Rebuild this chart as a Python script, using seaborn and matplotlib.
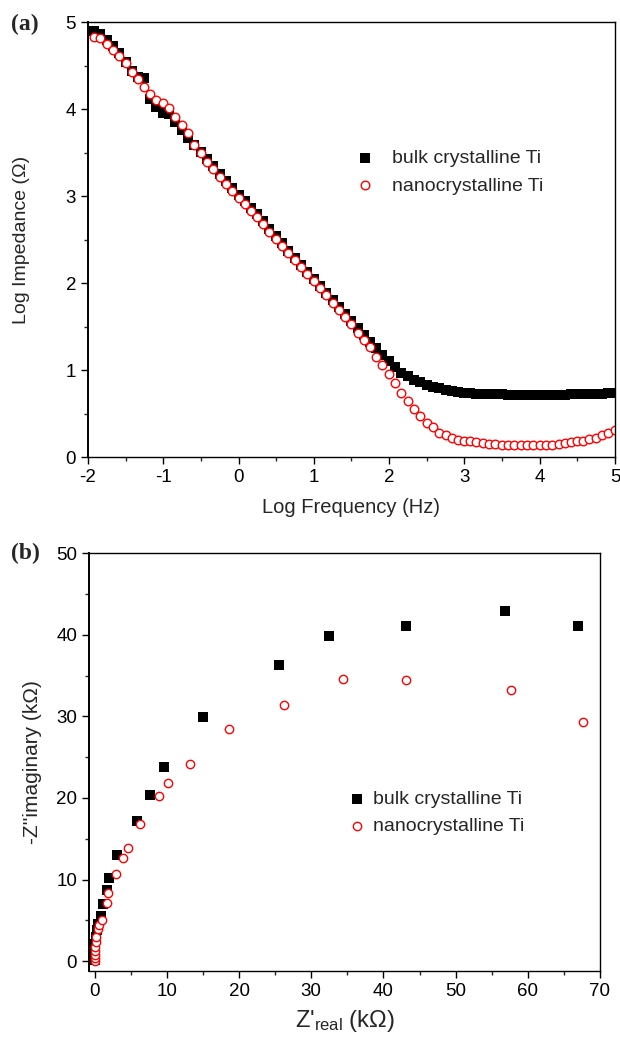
# -*- coding: utf-8 -*-
# EIS of bulk vs nanocrystalline Ti : (a) Bode modulus, (b) Nyquist
import pandas as pd
import matplotlib
matplotlib.use('Agg')
from matplotlib import pyplot as plt
from matplotlib.ticker import MultipleLocator
import seaborn as sns

# (a) Bode data ~~~~~~~~~~~~~~~~~~~~~~~~~~~~~~~~~~~~~~~~~~~~~~~~~~~~~~~~~
log_freq = [-1.92, -1.84, -1.75, -1.67, -1.59, -1.50, -1.42, -1.34, -1.25, -1.17,
            -1.09, -1.00, -0.92, -0.84, -0.75, -0.67, -0.59, -0.50, -0.42, -0.34,
            -0.25, -0.17, -0.09, 0.00, 0.08, 0.16, 0.25, 0.33, 0.41, 0.50,
            0.58, 0.66, 0.75, 0.83, 0.91, 1.00, 1.08, 1.16, 1.25, 1.33,
            1.41, 1.50, 1.58, 1.66, 1.75, 1.83, 1.91, 2.00, 2.08, 2.16,
            2.25, 2.33, 2.41, 2.50, 2.58, 2.66, 2.75, 2.83, 2.91, 3.00,
            3.08, 3.16, 3.25, 3.33, 3.41, 3.50, 3.58, 3.66, 3.75, 3.83,
            3.91, 4.00, 4.08, 4.16, 4.25, 4.33, 4.41, 4.50, 4.58, 4.66,
            4.75, 4.83, 4.91, 5.00]

bulk_log_z = [4.90, 4.86, 4.79, 4.72, 4.64, 4.54, 4.44, 4.37, 4.36, 4.12,
              4.02, 3.95, 3.94, 3.85, 3.76, 3.67, 3.59, 3.51, 3.42, 3.34,
              3.25, 3.17, 3.09, 3.01, 2.94, 2.86, 2.79, 2.71, 2.62, 2.54,
              2.46, 2.37, 2.29, 2.21, 2.13, 2.05, 1.97, 1.89, 1.80, 1.72,
              1.64, 1.56, 1.48, 1.40, 1.32, 1.25, 1.17, 1.10, 1.03, 0.97,
              0.93, 0.89, 0.86, 0.83, 0.81, 0.79, 0.77, 0.76, 0.75, 0.74,
              0.735, 0.73, 0.725, 0.72, 0.72, 0.72, 0.715, 0.715, 0.715, 0.715,
              0.715, 0.715, 0.715, 0.715, 0.715, 0.715, 0.72, 0.72, 0.72, 0.725,
              0.73, 0.73, 0.735, 0.74]

nano_log_z = [4.83, 4.82, 4.75, 4.68, 4.61, 4.53, 4.43, 4.34, 4.25, 4.17,
              4.10, 4.07, 4.01, 3.91, 3.82, 3.72, 3.59, 3.49, 3.39, 3.31,
              3.22, 3.14, 3.06, 2.98, 2.91, 2.83, 2.76, 2.68, 2.59, 2.51,
              2.43, 2.34, 2.26, 2.18, 2.10, 2.02, 1.94, 1.86, 1.77, 1.69,
              1.61, 1.53, 1.43, 1.34, 1.26, 1.15, 1.06, 0.95, 0.85, 0.74,
              0.64, 0.55, 0.47, 0.39, 0.34, 0.28, 0.25, 0.22, 0.20, 0.19,
              0.18, 0.17, 0.16, 0.15, 0.15, 0.14, 0.14, 0.14, 0.14, 0.14,
              0.14, 0.14, 0.14, 0.14, 0.15, 0.16, 0.17, 0.18, 0.19, 0.21,
              0.22, 0.25, 0.28, 0.31]

# (b) Nyquist data (kOhm) ~~~~~~~~~~~~~~~~~~~~~~~~~~~~~~~~~~~~~~~~~~~~~~~
bulk_zreal = [0.0, 0.01, 0.03, 0.06, 0.12, 0.25, 0.48, 0.83, 1.1, 1.65,
              2.0, 3.1, 5.8, 7.7, 9.6, 15.0, 25.5, 32.5, 43.1, 56.8, 67.0]
bulk_zimag = [0.1, 0.6, 1.3, 2.1, 3.0, 3.8, 4.6, 5.6, 7.0, 8.7,
              10.2, 13.0, 17.2, 20.4, 23.8, 29.9, 36.3, 39.9, 41.1, 42.9, 41.1]

nano_zreal = [0.0, 0.0, 0.01, 0.03, 0.08, 0.14, 0.23, 0.40, 0.65, 1.0,
              1.76, 1.85, 2.9, 3.9, 4.6, 6.3, 8.9, 10.1, 13.2, 18.6,
              26.2, 34.4, 43.1, 57.7, 67.6]
nano_zimag = [0.05, 0.35, 0.75, 1.25, 1.75, 2.4, 3.0, 3.9, 4.4, 5.1,
              7.1, 8.3, 10.7, 12.6, 13.9, 16.8, 20.3, 21.8, 24.2, 28.5,
              31.4, 34.6, 34.5, 33.2, 29.3]

labels = ['bulk crystalline Ti', 'nanocrystalline Ti']

sns.set_theme(style="ticks")
plt.rcParams['font.family'] = ['Liberation Sans', 'DejaVu Sans']
plt.rcParams['axes.unicode_minus'] = False
plt.rcParams['mathtext.fontset'] = 'custom'
plt.rcParams['mathtext.rm'] = 'Liberation Sans'
plt.rcParams['mathtext.it'] = 'Liberation Sans'

bode = pd.DataFrame({'f': log_freq, 'bulk': bulk_log_z, 'nano': nano_log_z})
nyq_bulk = pd.DataFrame({'x': bulk_zreal, 'y': bulk_zimag})
nyq_nano = pd.DataFrame({'x': nano_zreal, 'y': nano_zimag})

fig = plt.figure(figsize=(6.2, 10.39), dpi=100)
ax1 = fig.add_axes([0.1419, 0.5601, 0.8500, 0.4187])
ax2 = fig.add_axes([0.1435, 0.0654, 0.8242, 0.4023])


def style_axis(ax):
    for s in ax.spines.values():
        s.set_visible(True)
        s.set_linewidth(1.0)
        s.set_color('black')
    ax.spines['left'].set_linewidth(1.4)
    ax.tick_params(which='major', direction='out', length=5, width=1,
                   labelsize=13.5, colors='black', top=False, right=False)
    ax.tick_params(which='minor', direction='out', length=3, width=1,
                   top=False, right=False)


# Figure (a): Bode ~~~~~~~~~~~~~~~~~~~~~~~~~~~~~~~~~~~~~~~~~~~~~~~~~~~~~~
sns.scatterplot(data=bode, x='f', y='bulk', marker='s', s=50, color='black',
                edgecolor='black', linewidth=0, label=labels[0], ax=ax1)
sns.scatterplot(data=bode, x='f', y='nano', marker='o', s=38, facecolor='white',
                edgecolor='red', linewidth=1.0, label=labels[1], ax=ax1)
ax1.set_xlim(-2, 5)
ax1.set_ylim(0, 5)
ax1.xaxis.set_major_locator(MultipleLocator(1))
ax1.xaxis.set_minor_locator(MultipleLocator(0.5))
ax1.yaxis.set_major_locator(MultipleLocator(1))
ax1.yaxis.set_minor_locator(MultipleLocator(0.5))
ax1.set_xlabel('Log Frequency (Hz)', fontsize=14.5, labelpad=9)
ax1.set_ylabel('Log Impedance (Ω)', fontsize=14, labelpad=26)
style_axis(ax1)
ax1.legend(loc='center left', bbox_to_anchor=(0.51, 0.655), frameon=False,
           fontsize=14, handlelength=0.8, handletextpad=1.0, labelspacing=0.5,
           borderpad=0, borderaxespad=0)

# Figure (b): Nyquist ~~~~~~~~~~~~~~~~~~~~~~~~~~~~~~~~~~~~~~~~~~~~~~~~~~~
sns.scatterplot(data=nyq_bulk, x='x', y='y', marker='s', s=42, color='black',
                edgecolor='black', linewidth=0, label=labels[0], ax=ax2)
sns.scatterplot(data=nyq_nano, x='x', y='y', marker='o', s=36, facecolor='white',
                edgecolor='red', linewidth=1.0, label=labels[1], ax=ax2)
ax2.set_xlim(-0.8, 70)
ax2.set_ylim(-1.2, 50)
ax2.xaxis.set_major_locator(MultipleLocator(10))
ax2.xaxis.set_minor_locator(MultipleLocator(5))
ax2.yaxis.set_major_locator(MultipleLocator(10))
ax2.yaxis.set_minor_locator(MultipleLocator(5))
ax2.set_xlabel("Z'$_{\\mathrm{real}}$ (kΩ)", fontsize=17, labelpad=6)
ax2.set_ylabel("-Z''imaginary (kΩ)", fontsize=15, labelpad=10)
style_axis(ax2)
ax2.legend(loc='center left', bbox_to_anchor=(0.51, 0.379), frameon=False,
           fontsize=14, handlelength=0.8, handletextpad=0.4, labelspacing=0.5,
           borderpad=0, borderaxespad=0)

# panel letters
fig.text(0.018, 0.976, '(a)', fontsize=17, fontweight='bold',
         family=['Liberation Serif', 'DejaVu Serif'], va='center')
fig.text(0.018, 0.467, '(b)', fontsize=17, fontweight='bold',
         family=['Liberation Serif', 'DejaVu Serif'], va='center')

fig.savefig('out.png', dpi=100)
